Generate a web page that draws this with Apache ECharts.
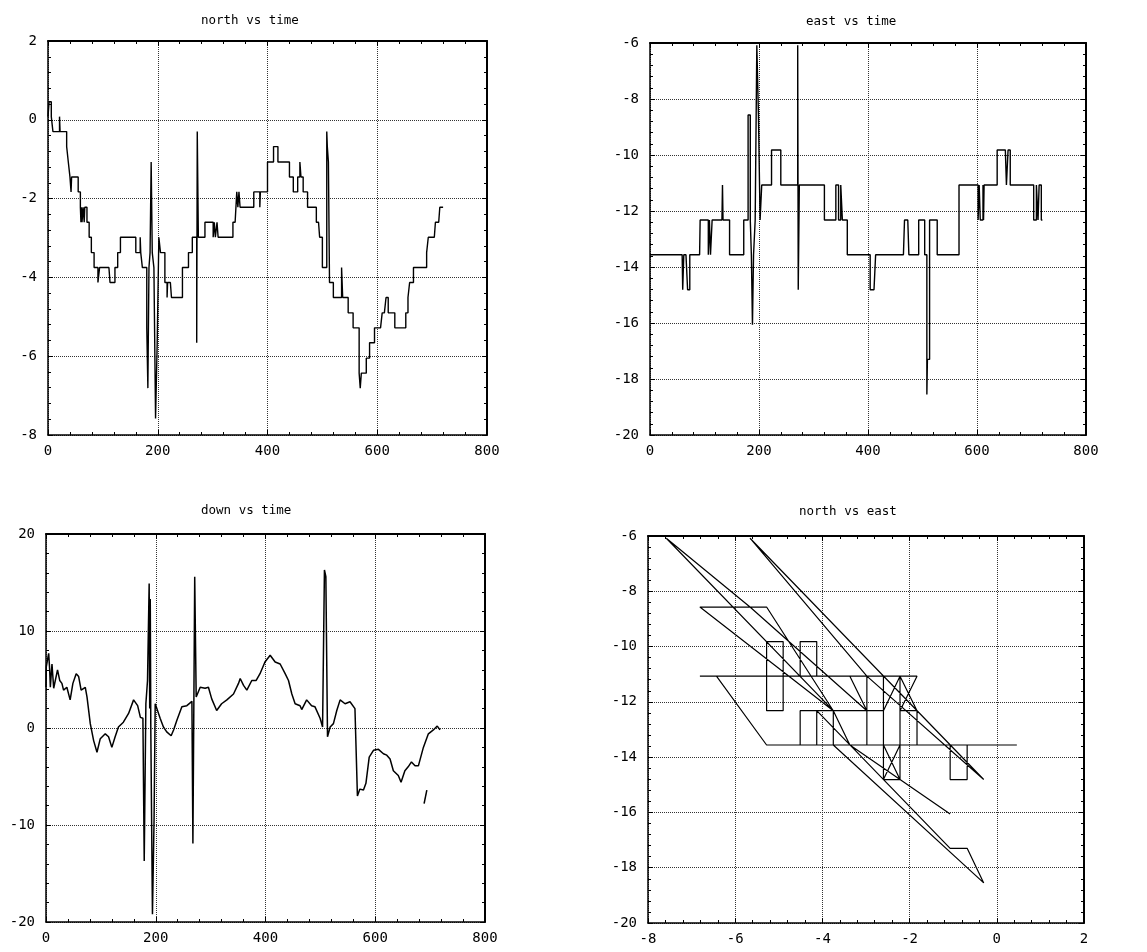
<!DOCTYPE html>
<html>
<head>
<meta charset="utf-8">
<script src="https://cdn.jsdelivr.net/npm/echarts@6/dist/echarts.min.js"></script>
<style>
html, body { margin: 0; padding: 0; background: #fff; }
#chart { width: 1147px; height: 952px; }
</style>
</head>
<body>
<div id="chart"></div>
<script>
// samples shared by north and east (time in s, values hold until next sample)
var timeNE = [0, 2, 6, 9, 21, 22, 34, 37, 40, 42, 43, 55, 59, 60, 61, 62, 64, 66, 67, 69, 71, 73, 75, 79, 84, 91, 92, 94,
  107, 109, 111, 113, 114, 122, 127, 132, 133, 134, 146, 160, 168, 169, 172, 180, 182, 184, 186, 188, 190, 193, 196, 199,
  202, 205, 213, 217, 218, 223, 225, 240, 245, 256, 263, 271, 272, 274, 286, 301, 303, 305, 308, 310, 320, 337, 341, 344,
  346, 348, 350, 353, 362, 375, 386, 387, 400, 404, 411, 414, 419, 440, 447, 455, 459, 461, 465, 467, 473, 475, 489, 493,
  495, 500, 504, 508, 509, 511, 513, 520, 527, 535, 537, 547, 556, 567, 569, 571, 580, 586, 595, 602, 604, 606, 609, 611,
  612, 613, 616, 620, 632, 637, 652, 654, 656, 657, 659, 661, 666, 690, 693, 704, 706, 709, 712, 714, 718, 720];
var north = [0.08, 0.46, 0.08, -0.3, 0.08, -0.3, -0.68, -1.07, -1.45, -1.83, -1.45, -1.83, -2.22, -2.6, -2.22, -2.6, -2.22,
  -2.6, -2.22, -2.22, -2.6, -2.6, -2.98, -3.37, -3.75, -4.13, -4.13, -3.75,
  -3.75, -3.75, -3.75, -4.13, -4.13, -3.75, -3.37, -2.98, -2.98, -2.98, -2.98, -3.37, -2.98, -3.37, -3.75, -5.28, -6.81,
  -3.75, -3.37, -1.07, -3.37, -3.75, -7.58, -5.66,
  -2.98, -3.37, -4.13, -4.51, -4.13, -4.13, -4.51, -4.51, -3.75, -3.37, -2.98, -5.66, -0.3, -2.98, -2.6, -2.98, -2.6, -2.98,
  -2.6, -2.98, -2.98, -2.6, -2.6, -1.83,
  -2.22, -1.83, -2.22, -2.22, -2.22, -1.83, -2.22, -1.83, -1.07, -1.07, -0.68, -0.68, -1.07, -1.45, -1.83, -1.45, -1.07,
  -1.45, -1.83, -1.83, -2.22, -2.22, -2.6, -2.6,
  -2.98, -3.75, -3.75, -0.3, -0.68, -1.07, -4.13, -4.51, -4.51, -3.75, -4.51, -4.9, -5.28, -6.43, -6.81, -6.43, -6.05,
  -5.66, -5.28, -5.28, -5.28, -5.28, -4.9, -4.9,
  -4.9, -4.9, -4.51, -4.9, -5.28, -5.28, -4.9, -4.9, -4.51, -4.51, -4.13, -4.13, -3.75, -3.37, -2.98, -2.98, -2.6, -2.6,
  -2.6, -2.22, -2.22, -2.22];
var east = [-13.56, -13.56, -13.56, -13.56, -13.56, -13.56, -13.56, -13.56, -13.56, -13.56, -13.56, -13.56, -13.56, -14.81,
  -14.81, -13.56, -13.56, -13.56, -13.56, -14.81, -14.81, -13.56, -13.56, -13.56, -13.56, -13.56, -12.32, -12.32,
  -13.56, -12.32, -13.56, -13.56, -12.32, -12.32, -12.32, -12.32, -11.07, -12.32, -13.56, -13.56, -13.56, -13.56, -12.32,
  -8.57, -8.57, -12.32, -13.56, -16.06, -13.56, -12.32, -6.08, -8.57,
  -12.32, -11.07, -11.07, -11.07, -11.07, -9.82, -9.82, -11.07, -11.07, -11.07, -11.07, -6.08, -14.81, -11.07, -11.07,
  -11.07, -11.07, -11.07, -11.07, -11.07, -12.32, -12.32, -11.07, -11.07,
  -12.32, -12.32, -11.07, -12.32, -13.56, -13.56, -13.56, -13.56, -13.56, -14.81, -14.81, -13.56, -13.56, -13.56, -13.56,
  -13.56, -13.56, -13.56, -13.56, -12.32, -12.32, -13.56, -13.56, -12.32,
  -12.32, -12.32, -13.56, -18.55, -17.3, -17.3, -12.32, -12.32, -13.56, -13.56, -13.56, -13.56, -13.56, -11.07, -11.07,
  -11.07, -11.07, -11.07, -11.07, -12.32, -11.07, -12.32, -12.32, -11.07,
  -12.32, -11.07, -11.07, -11.07, -11.07, -9.82, -9.82, -11.07, -11.07, -9.82, -9.82, -11.07, -11.07, -11.07, -11.07,
  -12.32, -12.32, -11.07, -12.32, -11.07, -12.32, -12.32];

// down channel
var timeDown = [0, 0.5, 3.6, 4.9, 6.7, 7.9, 10.9, 14, 17, 21, 25, 29, 32, 38, 44, 49, 55, 59.5, 64, 71.6, 74.7, 80.7, 86.8,
  92.9, 98.9, 108, 114, 120, 126, 132, 141, 150.5, 159.6, 167, 172, 176.6, 179, 182, 185, 188, 189, 190, 191, 194, 197,
  199, 202, 208, 214, 220, 228, 232.5, 238.5, 247.6, 256.7, 265.9, 267.7, 271, 273.7, 281, 290, 296, 302, 311, 320,
  329.6, 341.7, 350.8, 353.9, 360, 366, 375, 383, 390, 399, 408.5, 417.6, 426.7, 435.8, 441.9, 448, 454, 463, 466, 475,
  484, 490, 499.5, 504, 507.4, 510, 513, 517.8, 523.8, 529.9, 536, 545, 554, 563, 566, 567.5, 572, 578.5, 583, 589,
  596.7, 605.8, 614.9, 621, 627, 633, 642, 647, 654, 660, 666, 672.5, 678.6, 687.7, 696.8, 705.9, 713, 718];
var down = [4.2, 6.3, 7.3, 7.7, 6.0, 4.2, 6.6, 4.1, 3.9, 6.0, 4.9, 4.6, 3.9, 4.2, 2.9, 4.6, 5.6, 5.3, 3.9, 4.2, 3.2, 0.45, -1.3,
  -2.5, -1.1, -0.6, -0.9, -2.0, -0.9, 0.1, 0.6, 1.5, 2.9, 2.3, 1.1, 1.0, -13.7, 2.5, 4.9, 14.9, 2, 13.3, -0.2, -19.2, -9.2,
  2.5, 2.0, 1.0, 0.1, -0.4, -0.8, -0.2, 0.8, 2.2, 2.3, 2.75, -11.9, 15.6, 3.2, 4.2, 4.1, 4.2, 3.0, 1.8, 2.5,
  2.9, 3.5, 4.6, 5.1, 4.4, 3.9, 4.9, 4.9, 5.6, 6.8, 7.5, 6.8, 6.6, 5.6, 4.9, 3.5, 2.5, 2.3, 1.9, 2.9,
  2.3, 2.2, 1.0, 0.1, 16.3, 15.6, -0.9, 0.1, 0.45, 1.8, 2.9, 2.5, 2.7, 2.0, 1.9, -7.0, -6.3, -6.4, -5.7, -3.0,
  -2.3, -2.2, -2.65, -2.8, -3.2, -4.4, -4.9, -5.6, -4.4, -4.0, -3.5, -3.9, -3.9, -2.0, -0.6, -0.2, 0.2, -0.2];
var strayTime = [689, 694];
var strayDown = [-7.8, -6.4];

var titles = ['north vs time', 'east vs time', 'down vs time', 'north vs east'];

function pairs(xs, ys) {
  var out = [];
  for (var i = 0; i < xs.length; i++) out.push([xs[i], ys[i]]);
  return out;
}

var grids = [
  { left: 48, top: 41, width: 439, height: 394 },
  { left: 650, top: 43, width: 436, height: 392 },
  { left: 46, top: 534, width: 439, height: 388 },
  { left: 648, top: 536, width: 436, height: 387 }
];
var titlePos = [[196, 9], [801, 10], [196, 499], [794, 500]];
var xRanges = [[0, 800, 200], [0, 800, 200], [0, 800, 200], [-8, 2, 2]];
var yRanges = [[-8, 2, 2], [-20, -6, 2], [-20, 20, 10], [-20, -6, 2]];

function axis(kind, gi, r, pos, main) {
  return {
    type: 'value', gridIndex: gi, position: pos,
    min: r[0], max: r[1], interval: r[2],
    axisLine: { show: true, onZero: false, lineStyle: { color: '#000', width: main ? 1.5 : 2 } },
    axisTick: { show: true, inside: true, length: 5, lineStyle: { color: '#000', width: 1 } },
    minorTick: { show: true, splitNumber: 5, length: 3, lineStyle: { color: '#000', width: 1 } },
    axisLabel: {
      show: main, color: '#000', fontFamily: 'DejaVu Sans Mono', fontSize: 14,
      margin: kind === 'x' ? 9 : 11, showMinLabel: true, showMaxLabel: true
    },
    splitLine: { show: main, lineStyle: { color: '#333', type: 'dotted', width: 1 } }
  };
}

var xAxes = [], yAxes = [];
for (var g = 0; g < 4; g++) {
  xAxes.push(axis('x', g, xRanges[g], 'bottom', true));
  xAxes.push(axis('x', g, xRanges[g], 'top', false));
  yAxes.push(axis('y', g, yRanges[g], 'left', true));
  yAxes.push(axis('y', g, yRanges[g], 'right', false));
}

function trace(gi, data, step, w) {
  return {
    type: 'line', xAxisIndex: gi * 2, yAxisIndex: gi * 2, data: data,
    step: step || false, symbol: 'none', silent: true,
    lineStyle: { color: '#000', width: w || 1.4 }
  };
}

var myChart = echarts.init(document.getElementById('chart'));
var option = {
  backgroundColor: '#fff',
  animation: false,
  title: titles.map(function (t, i) {
    return {
      text: t, left: titlePos[i][0], top: titlePos[i][1],
      textStyle: { fontFamily: 'DejaVu Sans Mono', fontSize: 12.5, fontWeight: 'normal', color: '#000' }
    };
  }),
  grid: grids,
  xAxis: xAxes,
  yAxis: yAxes,
  series: [
    trace(0, pairs(timeNE, north), 'end'),
    trace(1, pairs(timeNE, east), 'end'),
    trace(2, pairs(timeDown, down), false, 1.5),
    trace(2, pairs(strayTime, strayDown), false, 1.5),
    trace(3, pairs(north, east), false, 1.2)
  ]
};
myChart.setOption(option);
</script>
</body>
</html>
